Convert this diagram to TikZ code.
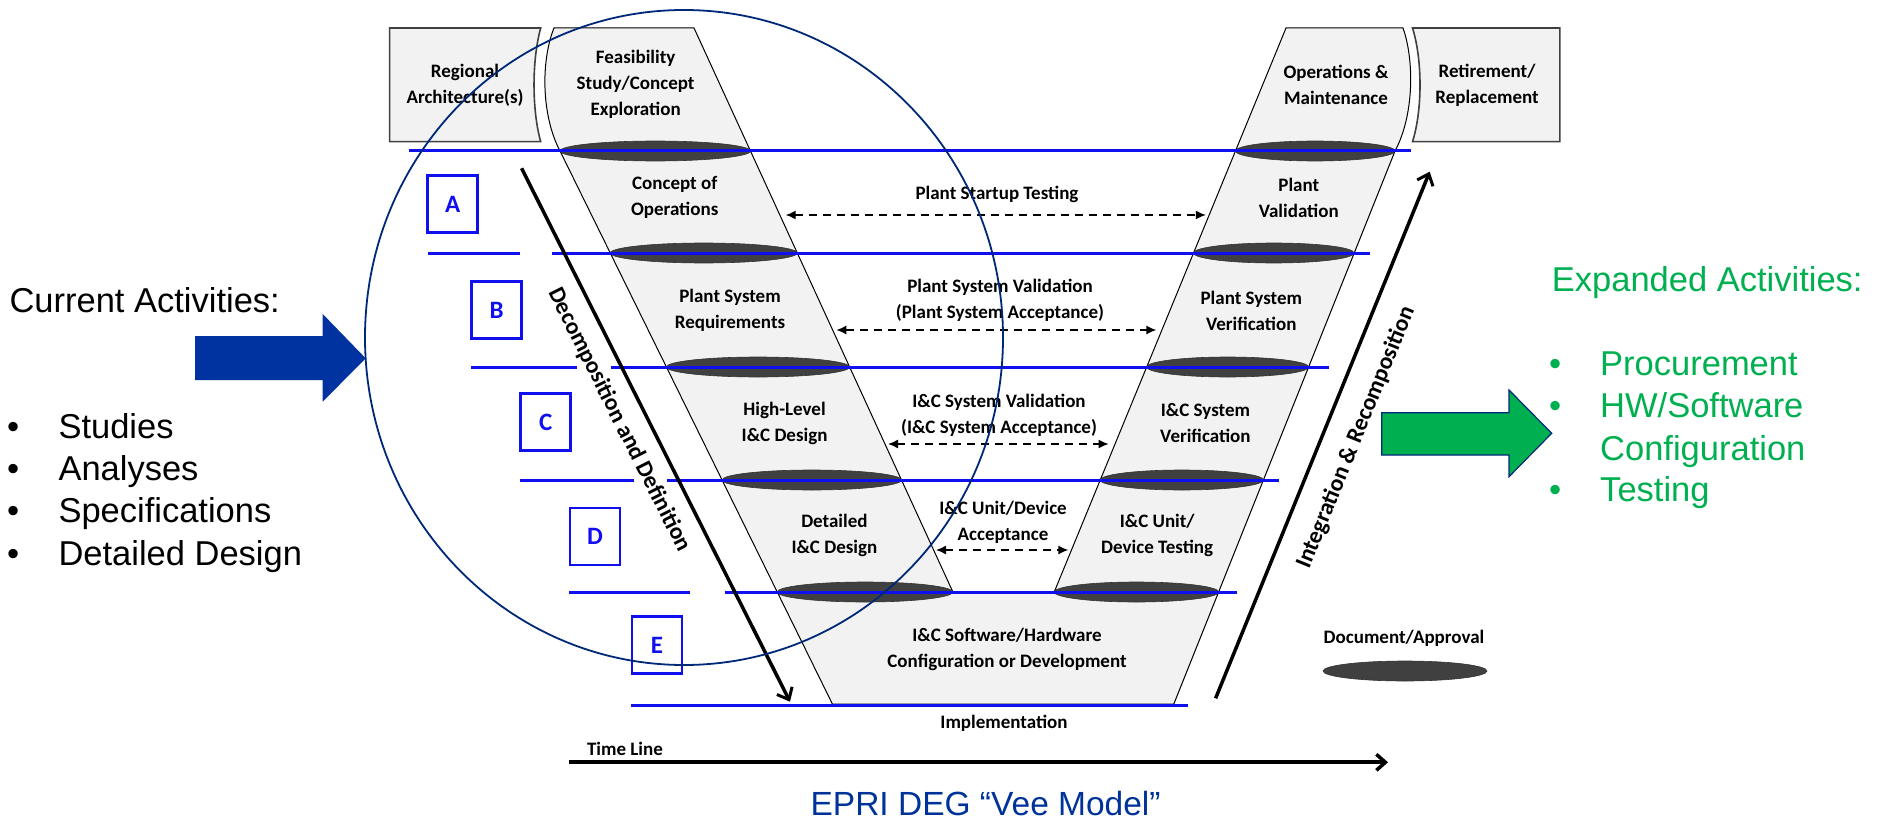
\documentclass[tikz,border=0pt]{standalone}
\usepackage{fontspec}
\setmainfont{Carlito}
\newfontfamily\arialf{Liberation Sans}
\usetikzlibrary{arrows.meta}
\definecolor{vblue}{RGB}{15,15,240}
\definecolor{navyc}{RGB}{0,40,120}
\definecolor{arrowblue}{RGB}{0,51,160}
\definecolor{ogreen}{RGB}{0,176,80}
\definecolor{shgray}{RGB}{242,242,242}
\definecolor{ellgray}{RGB}{64,64,64}
\definecolor{eprinavy}{RGB}{0,51,153}
\begin{document}
\begin{tikzpicture}[x=1pt,y=-1pt,
  lbl/.style={font=\fontsize{19}{26}\selectfont\bfseries, align=center, inner sep=0pt},
  rotlbl/.style={font=\fontsize{23.5}{28}\selectfont\bfseries, inner sep=0pt},
  big/.style={font=\arialf\fontsize{34.5}{40}\selectfont, inner sep=0pt, anchor=base west},
  shapebox/.style={fill=shgray, draw=black, line width=1pt},
  endbox/.style={fill=shgray, draw=black!75, line width=1.6pt},
  docell/.style={fill=ellgray, draw=black!80, line width=0.6pt},
  vline/.style={draw=vblue, line width=3pt},
  letterbox/.style={draw=vblue, line width=2.5pt, minimum width=50pt, minimum height=57pt, inner sep=0pt, text=vblue, font=\fontsize{25}{30}\selectfont\bfseries},
  dasharrow/.style={dash pattern=on 8pt off 6pt, line width=1.4pt, {Latex[length=10pt,width=9pt]}-{Latex[length=10pt,width=9pt]}},
  flow/.style={line width=3.5pt, -{Straight Barb[length=10pt,width=17pt,line width=3pt]}},
]
\useasboundingbox (0,0) rectangle (1878,821);

% end boxes
\draw[endbox] (389.6,28) -- (540.7,28) .. controls (531.8,60) and (531.8,110) .. (540.7,141.7) -- (389.6,141.7) -- cycle;
\draw[endbox] (1412.5,28) -- (1559.8,28) -- (1559.8,141.7) -- (1412.5,141.7) .. controls (1422.5,110) and (1422.5,60) .. (1412.5,28) -- cycle;

% Vee shape
\draw[shapebox] (554,28) -- (694,28) -- (952.9,592) -- (1054.2,592) -- (1286,28) -- (1403,28)
  .. controls (1414.3,60) and (1414.3,115) .. (1395,151) -- (1173.8,704) -- (832.4,704) -- (560,151)
  .. controls (541,115) and (541,60) .. (554,28) -- cycle;

% document ellipses
\draw[docell] (655.3,151) ellipse [x radius=95.3, y radius=10];
\draw[docell] (703.7,253) ellipse [x radius=93.5, y radius=10];
\draw[docell] (758,367) ellipse [x radius=91.6, y radius=10];
\draw[docell] (811.8,480) ellipse [x radius=89.7, y radius=10];
\draw[docell] (865,592) ellipse [x radius=87.8, y radius=10];
\draw[docell] (1315.2,151) ellipse [x radius=79.8, y radius=10];
\draw[docell] (1273.8,253) ellipse [x radius=80.3, y radius=10];
\draw[docell] (1227.6,367) ellipse [x radius=81, y radius=10];
\draw[docell] (1181.8,480) ellipse [x radius=81.6, y radius=10];
\draw[docell] (1136.4,592) ellipse [x radius=82.2, y radius=10];
\draw[docell] (1405,671) ellipse [x radius=82, y radius=10];

% blue level lines
\draw[vline] (408.7,151) -- (1410.5,151);
\draw[vline] (427.8,253) -- (519.7,253);
\draw[vline] (552.2,253) -- (1370,253);
\draw[vline] (470.8,367) -- (576.8,367);
\draw[vline] (610.5,367) -- (1328.6,367);
\draw[vline] (519.8,480) -- (634.2,480);
\draw[vline] (666.7,480) -- (1278.9,480);
\draw[vline] (568.9,592) -- (690,592);
\draw[vline] (724.5,592) -- (1236.6,592);
\draw[vline] (630.7,705) -- (1187.5,705);

% letter boxes
\node[letterbox] (la) at (452.7,204) {A};
\node[letterbox] (lb) at (496.5,310) {B};
\node[letterbox] (lc) at (545.7,422) {C};
\node[letterbox] (ld) at (595,536.4) {D};
\node[letterbox] (le) at (657,645) {E};

% labels in shapes
\node[lbl] (reg) at (465,85) {Regional\\Architecture(s)};
\node[lbl] (feas) at (635.6,84) {Feasibility\\Study/Concept\\Exploration};
\node[lbl] (conops) at (674.7,197.5) {Concept of\\Operations};
\node[lbl] (psr) at (730,310.5) {Plant System\\Requirements};
\node[lbl] (hld) at (784.6,423) {High-Level\\I\&C Design};
\node[lbl] (dd) at (834.4,535.7) {Detailed\\I\&C Design};
\node[lbl] (swhw) at (1007,649.7) {I\&C Software/Hardware\\Configuration or Development};
\node[lbl] (om) at (1336,85) {Operations \&\\Maintenance};
\node[lbl] (ret) at (1487,85) {Retirement/\\Replacement};
\node[lbl] (pv) at (1298.8,197.5) {Plant\\Validation};
\node[lbl] (psv) at (1251.3,310.5) {Plant System\\Verification};
\node[lbl] (icsv) at (1205.4,423) {I\&C System\\Verification};
\node[lbl] (icut) at (1157.2,535.7) {I\&C Unit/\\Device Testing};

% middle labels and dashed arrows
\node[lbl] (pstl) at (997,194) {Plant Startup Testing};
\node[lbl] (psvl) at (1000,300.7) {Plant System Validation\\(Plant System Acceptance)};
\node[lbl] (icvl) at (999,415.7) {I\&C System Validation\\(I\&C System Acceptance)};
\node[lbl] (icul) at (1003,522) {I\&C Unit/Device\\Acceptance};
\coordinate (pst1) at (785.7,215); \coordinate (pst2) at (1205.8,215);
\coordinate (psv1) at (836.3,330); \coordinate (psv2) at (1156.4,330);
\coordinate (icv1) at (888,444); \coordinate (icv2) at (1108.6,444);
\coordinate (icu1) at (936,550); \coordinate (icu2) at (1068.4,550);
\draw[dasharrow] (pst1) -- (pst2);
\draw[dasharrow] (psv1) -- (psv2);
\draw[dasharrow] (icv1) -- (icv2);
\draw[dasharrow] (icu1) -- (icu2);

% flow arrows
\coordinate (dd1) at (521.6,168.3); \coordinate (dd2) at (790,701.7);
\coordinate (ir1) at (1215.6,698.3); \coordinate (ir2) at (1429.7,171.7);
\draw[flow] (dd1) -- (dd2);
\draw[flow] (ir1) -- (ir2);
\node[rotlbl, rotate=-63.3] (decl) at (619.5,420) {Decomposition and Definition};
\node[rotlbl, rotate=67.9] (intl) at (1356,437.5) {Integration \& Recomposition};

% bottom
\node[lbl] (impl) at (1004,723) {Implementation};
\node[lbl] (tll) at (625,749) {Time Line};
\node[lbl] (docl) at (1404,638) {Document/Approval};
\coordinate (tl1) at (568.9,762.3); \coordinate (tl2) at (1388,762.3);
\draw[line width=4pt, -{Straight Barb[length=9pt,width=16pt,line width=3.5pt]}] (tl1) -- (tl2);
\node[font=\arialf\fontsize{33.5}{40}\selectfont, text=eprinavy, inner sep=0pt, anchor=base] (epri) at (985.6,815) {EPRI DEG “Vee Model”};

% focus circle
\draw[navyc, line width=1.8pt] (684,337.5) ellipse [x radius=319, y radius=327.5];

% left side
\fill[arrowblue] (195,336) -- (322.7,336) -- (322.7,314) -- (365.7,358.3) -- (322.7,401.7) -- (322.7,380) -- (195,380) -- cycle;
\node[big] (cur) at (9.3,312.7) {Current Activities:};
\node[big] (cb1) at (7,438.3) {•};
\node[big] (cs1) at (58.3,438.3) {Studies};
\node[big] (cb2) at (7,480.7) {•};
\node[big] (cs2) at (58.3,480.7) {Analyses};
\node[big] (cb3) at (7,522.7) {•};
\node[big] (cs3) at (58.3,522.7) {Specifications};
\node[big] (cb4) at (7,565) {•};
\node[big] (cs4) at (58.3,565) {Detailed Design};

% right side
\draw[fill=ogreen, draw=navyc, line width=1.2pt] (1381.7,412.7) -- (1509,412.7) -- (1509,390) -- (1551.7,433.3) -- (1509,476.7) -- (1509,455) -- (1381.7,455) -- cycle;
\begin{scope}[every node/.append style={text=ogreen}]
\node[big] (exp) at (1551.7,291.7) {Expanded Activities:};
\node[big] (eb1) at (1549,375) {•};
\node[big] (es1) at (1600,375) {Procurement};
\node[big] (eb2) at (1549,417.3) {•};
\node[big] (es2) at (1600,417.3) {HW/Software};
\node[big] (es3) at (1600,460) {Configuration};
\node[big] (eb3) at (1549,501.7) {•};
\node[big] (es4) at (1600,501.7) {Testing};
\end{scope}
\end{tikzpicture}
\end{document}
